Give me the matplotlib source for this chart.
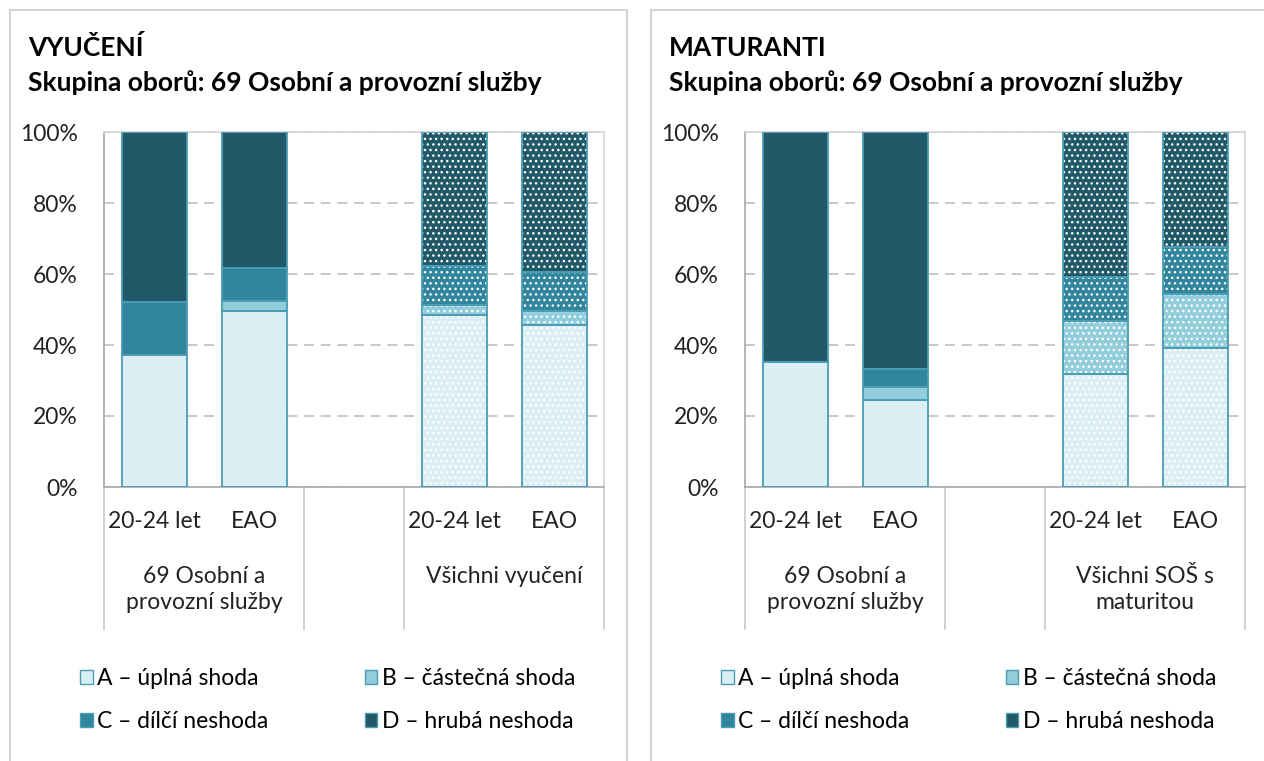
import matplotlib.pyplot as plt
from matplotlib.patches import Rectangle, Patch
from matplotlib.lines import Line2D
from matplotlib.ticker import PercentFormatter

plt.rcParams['font.family'] = ['Lato', 'DejaVu Sans']
plt.rcParams['hatch.linewidth'] = 1.0

cat_labels = ['20-24 let', 'EAO', '', '20-24 let', 'EAO']
bar_pos = [0, 1, 3, 4]
series = ['A – úplná shoda', 'B – částečná shoda', 'C – dílčí neshoda', 'D – hrubá neshoda']
colors = ['#dbeef3', '#92cddc', '#31859c', '#215968']

# VYUČENÍ
vy_A = [37.2, 49.6, 48.5, 45.6]
vy_B = [0.0, 2.8, 2.8, 4.0]
vy_C = [15.0, 9.3, 11.0, 11.0]
vy_D = [47.8, 38.3, 37.7, 39.4]
vy_groups = ['69 Osobní a\nprovozní služby', 'Všichni vyučení']

# MATURANTI
ma_A = [35.1, 24.4, 31.7, 39.1]
ma_B = [0.0, 3.8, 15.1, 15.2]
ma_C = [0.0, 5.0, 12.3, 13.2]
ma_D = [64.9, 66.8, 40.9, 32.5]
ma_groups = ['69 Osobní a\nprovozní služby', 'Všichni SOŠ s\nmaturitou']

W, H = 1264, 761
fig = plt.figure(figsize=(W / 100, H / 100), dpi=100)

edge = '#4a9db4'
grid_c = '#bfbfbf'
line_c = '#c8c8c8'
fs = 16.5


def panel(x0, title, A, B, C, D, groups):
    # panel frame
    fig.patches.append(Rectangle(((x0 - 94) / W, -0.1), 617 / W, 1.1 - 10 / H,
                                 transform=fig.transFigure, fill=False,
                                 edgecolor='#d4d4d4', lw=1.5))
    fig.text((x0 - 76) / W, 1 - 56 / H, title, fontsize=19, fontweight='bold', va='baseline')
    fig.text((x0 - 76) / W, 1 - 91 / H, 'Skupina oborů: 69 Osobní a provozní služby',
             fontsize=19, fontweight='bold', va='baseline')

    ax = fig.add_axes([x0 / W, (H - 487) / H, 500 / W, 355 / H])
    bottom = [0, 0, 0, 0]
    for vals, col in zip([A, B, C, D], colors):
        ax.bar(bar_pos, vals, 0.65, bottom=bottom, color=col, lw=0, zorder=2)
        # dotted pattern for the "all schools" bars
        ax.bar(bar_pos[2:], vals[2:], 0.65, bottom=bottom[2:], facecolor='none',
               edgecolor='white', lw=0, hatch='...', zorder=3)
        ax.bar(bar_pos, vals, 0.65, bottom=bottom, fill=False, edgecolor=edge, lw=1.3, zorder=4)
        bottom = [b + v for b, v in zip(bottom, vals)]

    ax.set_xlim(-0.5, 4.5)
    ax.set_ylim(0, 100)
    ax.set_yticks(range(0, 101, 20))
    ax.yaxis.set_major_formatter(PercentFormatter(decimals=0))
    ax.tick_params(axis='y', length=0, pad=19, labelsize=fs, colors='#222222')
    ax.set_xticks([])
    ax.yaxis.grid(True, color=grid_c, ls=(0, (6, 4)), lw=1.2, zorder=0)
    for s in ['top', 'right']:
        ax.spines[s].set_color('#d4d4d4')
    for s in ['left', 'bottom']:
        ax.spines[s].set_color('#a8a8a8')
    for s in ax.spines.values():
        s.set_linewidth(1.2)

    tr = ax.get_xaxis_transform()
    for i, lab in enumerate(cat_labels):
        ax.text(i, -0.096, lab, transform=tr, ha='center', va='center', fontsize=fs, color='#222222')
    for xd in [-0.5, 1.5, 2.5, 4.5]:
        ax.add_line(Line2D([xd, xd], [0, -0.4], transform=tr, color=line_c, lw=1.2, clip_on=False))
    for xc, g in zip([0.5, 3.5], groups):
        ax.text(xc, -0.222, g, transform=tr, ha='center', va='top', fontsize=fs,
                color='#222222', linespacing=1.3)

    handles = [Patch(facecolor=c, edgecolor=edge, lw=1.0) for c in colors]
    order = [0, 2, 1, 3]
    ax.legend([handles[i] for i in order], [series[i] for i in order], ncol=2,
              loc='upper left', bbox_to_anchor=((x0 - 24) / W, 1 - 668 / H),
              bbox_transform=fig.transFigure, frameon=False, fontsize=fs,
              handlelength=0.55, handleheight=0.55, handletextpad=0.2,
              columnspacing=4.2, labelspacing=0.95, borderpad=0, borderaxespad=0)
    return ax


panel(104, 'VYUČENÍ', vy_A, vy_B, vy_C, vy_D, vy_groups)
panel(745, 'MATURANTI', ma_A, ma_B, ma_C, ma_D, ma_groups)

fig.savefig('out.png', dpi=100)
